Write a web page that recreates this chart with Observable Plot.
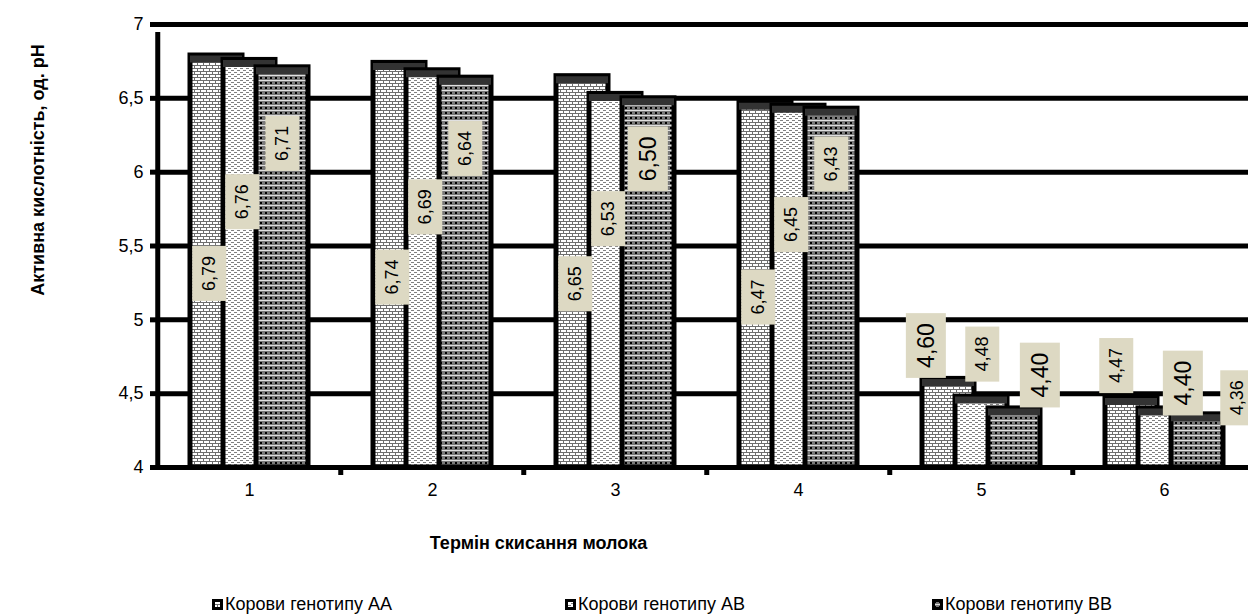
<!DOCTYPE html>
<html><head><meta charset="utf-8">
<script src="https://cdn.jsdelivr.net/npm/d3@7"></script>
<script src="https://cdn.jsdelivr.net/npm/@observablehq/plot@0.6"></script>
<style>
body{margin:0;background:#fff;}
#wrap{position:relative;width:1248px;height:614px;overflow:hidden;font-family:"Liberation Sans",Arial,sans-serif;}
#legend{position:absolute;top:593px;left:0;width:1248px;height:22px;font-size:18px;color:#000}
.item{position:absolute;top:0;display:flex;align-items:center;white-space:nowrap;line-height:22px}
.item svg{margin-right:2px}
</style></head><body><div id="wrap"><div id="chart"></div><div id="legend"></div></div>
<script>
// ---- data ----
const terms = ["1", "2", "3", "4", "5", "6"];
const seriesNames = ["Корови генотипу АА", "Корови генотипу АВ", "Корови генотипу ВВ"];
const valuesAA = [6.79, 6.74, 6.65, 6.47, 4.60, 4.47];
const valuesAB = [6.76, 6.69, 6.53, 6.45, 4.48, 4.40];
const valuesBB = [6.71, 6.64, 6.50, 6.43, 4.40, 4.36];
const yTicks = [4, 4.5, 5, 5.5, 6, 6.5, 7];
const yTitle = "Активна кислотність, од. pH";
const xTitle = "Термін скисання молока";

// ---- styling config ----
const FONT = '"Liberation Sans",Arial,sans-serif';
const seriesValues = [valuesAA, valuesAB, valuesBB];
const barOffset = [-33, 0, 33];
const tallLabelDx = [-7, -7, 0];
const tallLabelDy = [6, 0, 0];
const tallLabelLift = [-0.04, 0.42, 0.84];
const shortLabelDx = [-22, 4, 26];
// manual label nudges (pixels) as placed in the original chart
const labelNudge = {"5-1": [-3, -14], "6-0": [7, -4], "6-1": [15, 8], "6-2": [14, 12]};
const bigLabels = new Set(["3-2", "5-0", "5-2", "6-1"]);
const step = 1101 / 6;
const fmt = v => v.toFixed(2).replace(".", ",");

const rowsFor = si => terms.map((t, j) => ({term: t, v: seriesValues[si][j], s: si, key: `${t}-${si}`}));

const marks = [
  Plot.ruleY(yTicks.slice(1), {stroke: "#000", strokeWidth: 5})
];
for (let si = 0; si < 3; si++) {
  const rows = rowsFor(si);
  marks.push(
    Plot.barY(rows, {x: "term", y1: 4, y2: "v", dx: barOffset[si], fill: `url(#pat${si})`, stroke: "#000", strokeWidth: 5}),
    Plot.tickY(rows, {x: "term", y: "v", dx: barOffset[si], dy: 3.5, stroke: "#333", strokeWidth: 7})
  );
}
marks.push(
  Plot.ruleY([4], {stroke: "#000", strokeWidth: 5}),
  Plot.ruleX(["1"], {x: d => d, y1: 4, y2: 7, dx: -step / 2, stroke: "#000", strokeWidth: 5, insetTop: -2, insetBottom: -8}),
  Plot.ruleX(terms.slice(1), {x: d => d, y1: 4, y2: 4, dx: -step / 2, stroke: "#000", strokeWidth: 5, insetBottom: -8}),
  Plot.axisY({ticks: yTicks, tickFormat: d => String(d).replace(".", ","), tickSize: 6, tickPadding: 7, fontSize: 18, strokeWidth: 5, label: null}),
  Plot.axisX({tickSize: 0, tickPadding: 16, fontSize: 18, label: null})
);
for (let si = 0; si < 3; si++) {
  for (const d of rowsFor(si)) {
    const [nx, ny] = labelNudge[d.key] || [0, 0];
    const tall = d.v > 5;
    marks.push(Plot.text([d], {
      x: "term",
      y: tall ? (r => (4 + r.v) / 2 + tallLabelLift[si]) : "v",
      text: r => fmt(r.v), rotate: -90,
      textAnchor: tall ? "middle" : "start",
      dx: barOffset[si] + (tall ? tallLabelDx[si] : shortLabelDx[si]) + nx,
      dy: (tall ? tallLabelDy[si] : -11) + ny,
      fontSize: bigLabels.has(d.key) ? 23 : 18,
      fill: "#000", ariaDescription: "vlabel"
    }));
  }
}
marks.push(
  Plot.text([yTitle], {frameAnchor: "left", textAnchor: "middle", rotate: -90, dx: -118, dy: -76, fontWeight: "bold", fontSize: 18, fill: "#000"}),
  Plot.text([xTitle], {frameAnchor: "bottom", textAnchor: "middle", dx: -164, dy: 81, fontWeight: "bold", fontSize: 18, fill: "#000"})
);

const chart = Plot.plot({
  width: 1248, height: 580,
  marginTop: 24, marginBottom: 113, marginLeft: 156, marginRight: 0,
  style: {fontFamily: FONT, background: "white", color: "#000", overflow: "hidden"},
  x: {domain: terms, range: [156, 1257], paddingInner: 0.7166, paddingOuter: 0.3583, align: 0.5},
  y: {domain: [4, 7]},
  marks
});

const NS = "http://www.w3.org/2000/svg";
const defs = document.createElementNS(NS, "defs");
defs.innerHTML = `
<pattern id="pat0" patternUnits="userSpaceOnUse" width="6" height="6">
  <rect width="6" height="6" fill="#6e6e6e"/>
  <rect x="0" y="0" width="5" height="2" fill="#fff"/>
  <rect x="3" y="3" width="3" height="2" fill="#fff"/>
  <rect x="0" y="3" width="2" height="2" fill="#fff"/>
</pattern>
<pattern id="pat1" patternUnits="userSpaceOnUse" width="6" height="4">
  <rect width="6" height="4" fill="#fff"/>
  <rect x="0" y="0" width="3" height="1" fill="#808080"/>
  <rect x="3" y="2" width="3" height="1" fill="#808080"/>
</pattern>
<pattern id="pat2" patternUnits="userSpaceOnUse" width="5" height="5">
  <rect width="5" height="5" fill="#7a7a7a"/>
  <rect x="0" y="0" width="5" height="1" fill="#e0e0e0"/>
  <rect x="2" y="2" width="2" height="2" fill="#000"/>
</pattern>`;
chart.insertBefore(defs, chart.firstChild);
document.getElementById("chart").appendChild(chart);

// beige boxes behind value labels
chart.querySelectorAll('g[aria-description="vlabel"] text').forEach(t => {
  const b = t.getBBox();
  const r = document.createElementNS(NS, "rect");
  r.setAttribute("x", b.x - 10);
  r.setAttribute("y", b.y - 7);
  r.setAttribute("width", b.width + 20);
  r.setAttribute("height", b.height + 14);
  r.setAttribute("fill", "#ddd9c3");
  if (t.getAttribute("transform")) r.setAttribute("transform", t.getAttribute("transform"));
  t.parentNode.insertBefore(r, t);
});

// legend
const legendX = [212, 565, 932];
const legend = document.getElementById("legend");
seriesNames.forEach((name, i) => {
  const item = document.createElement("div");
  item.className = "item";
  item.style.left = legendX[i] + "px";
  item.innerHTML = `<svg width="11" height="11"><rect x="1.5" y="1.5" width="8" height="8" fill="url(#pat${i})" stroke="#000" stroke-width="3"/></svg><span>${name}</span>`;
  legend.appendChild(item);
});
</script></body></html>
